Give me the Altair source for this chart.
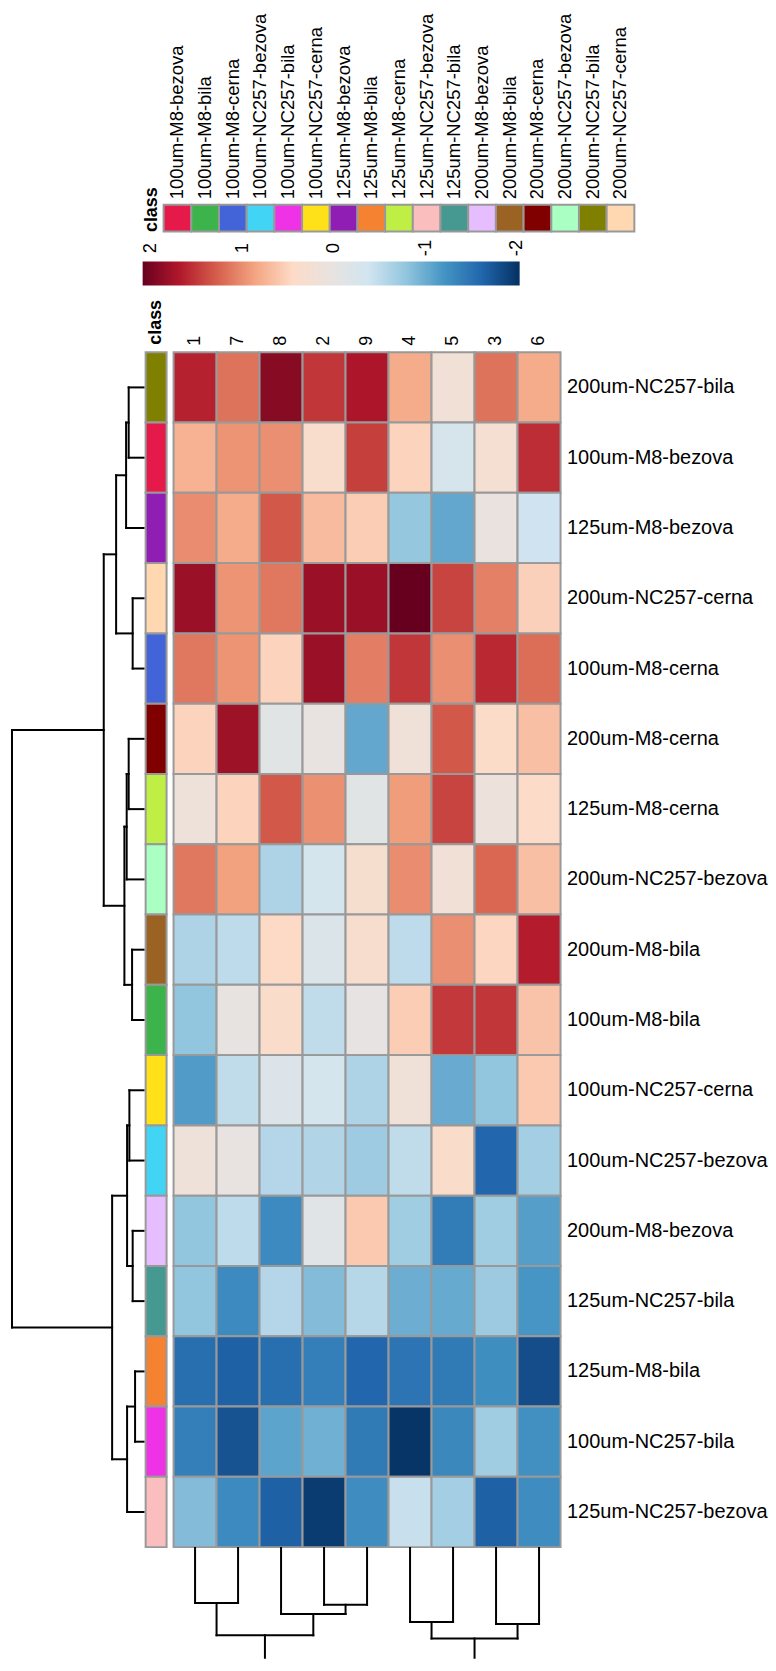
import altair as alt
import pandas as pd

# ---------------- data ----------------
ROWS = ["200um-NC257-bila", "100um-M8-bezova", "125um-M8-bezova", "200um-NC257-cerna",
        "100um-M8-cerna", "200um-M8-cerna", "125um-M8-cerna", "200um-NC257-bezova",
        "200um-M8-bila", "100um-M8-bila", "100um-NC257-cerna", "100um-NC257-bezova",
        "200um-M8-bezova", "125um-NC257-bila", "125um-M8-bila", "100um-NC257-bila",
        "125um-NC257-bezova"]
COLS = ["1", "7", "8", "2", "9", "4", "5", "3", "6"]
VALUES = [
    [1.62, 1.15, 1.90, 1.50, 1.70, 0.80, 0.20, 1.15, 0.80],
    [0.75, 0.95, 0.98, 0.35, 1.45, 0.50, -0.30, 0.25, 1.55],
    [1.00, 0.80, 1.30, 0.68, 0.55, -0.78, -1.05, 0.05, -0.40],
    [1.80, 0.95, 1.12, 1.80, 1.80, 2.08, 1.42, 1.07, 0.52],
    [1.12, 0.95, 0.50, 1.80, 1.08, 1.50, 0.98, 1.58, 1.18],
    [0.50, 1.78, -0.12, 0.02, -1.05, 0.15, 1.30, 0.40, 0.65],
    [0.12, 0.50, 1.30, 0.97, -0.12, 0.90, 1.42, 0.10, 0.42],
    [1.12, 0.87, -0.62, -0.32, 0.30, 1.00, 0.18, 1.22, 0.65],
    [-0.62, -0.52, 0.45, -0.22, 0.32, -0.52, 0.98, 0.48, 1.65],
    [-0.80, 0.00, 0.38, -0.50, -0.02, 0.55, 1.48, 1.50, 0.62],
    [-1.15, -0.50, -0.20, -0.32, -0.62, 0.15, -1.02, -0.80, 0.58],
    [0.13, 0.02, -0.58, -0.60, -0.72, -0.50, 0.38, -1.62, -0.68],
    [-0.80, -0.52, -1.30, -0.13, 0.58, -0.70, -1.42, -0.70, -1.13],
    [-0.80, -1.30, -0.58, -0.88, -0.57, -1.00, -1.03, -0.73, -1.20],
    [-1.55, -1.67, -1.55, -1.40, -1.62, -1.50, -1.45, -1.27, -1.82],
    [-1.40, -1.78, -1.08, -0.98, -1.45, -2.00, -1.32, -0.70, -1.25],
    [-0.88, -1.30, -1.67, -1.95, -1.28, -0.45, -0.68, -1.67, -1.28],
]
CLASSES = ["100um-M8-bezova", "100um-M8-bila", "100um-M8-cerna", "100um-NC257-bezova",
           "100um-NC257-bila", "100um-NC257-cerna", "125um-M8-bezova", "125um-M8-bila",
           "125um-M8-cerna", "125um-NC257-bezova", "125um-NC257-bila", "200um-M8-bezova",
           "200um-M8-bila", "200um-M8-cerna", "200um-NC257-bezova", "200um-NC257-bila",
           "200um-NC257-cerna"]
CLASS_COLORS = ["#e6194b", "#3cb44b", "#4363d8", "#42d4f4", "#f032e6", "#ffe119",
                "#911eb4", "#f58231", "#bfef45", "#fabebe", "#469990", "#e6beff",
                "#9a6324", "#800000", "#aaffc3", "#808000", "#ffd8b1"]

# row dendrogram merges (leaf = row index, "mK" = K-th merge), height
ROW_MERGES = [(0, 1, 15.0), ("m0", 2, 17.6), (3, 4, 11.0), ("m1", "m2", 27.6),
              (5, 6, 15.0), ("m4", 7, 17.0), (8, 9, 11.6), ("m5", "m6", 19.3),
              ("m3", "m7", 40.0), (10, 11, 14.3), (12, 13, 11.0), ("m9", "m10", 16.6),
              (14, 15, 8.6), ("m12", 16, 16.6), ("m11", "m13", 31.6), ("m8", "m14", 132.0)]
# column dendrogram merges (leaf = column position)
COL_MERGES = [(0, 1, 56.0), (3, 4, 57.7), (2, "m1", 67.0), ("m0", "m2", 88.3),
              (5, 6, 75.0), (7, 8, 77.0), ("m4", "m5", 91.7), ("m3", "m6", 160.0)]

SCALE_STOPS = [-2.04, -1.63, -1.22, -0.80, -0.39, 0.02, 0.44, 0.85, 1.26, 1.67, 2.08]
SCALE_COLORS = ["#053061", "#2166ac", "#4393c3", "#92c5de", "#d1e5f0", "#e8e3e0",
                "#fddbc7", "#f4a582", "#d6604d", "#b2182b", "#67001f"]
LEGEND_TICKS = [2, 1, 0, -1, -2]

FONT = "Liberation Sans"
GREY = "#999999"
HM_W, HM_H = 388, 1198
DEN_W, CLS_W, COLDEN_H = 136, 26, 112


def dendro_segments(merges):
    pos, hgt, segs = {}, {}, []

    def get(n):
        if isinstance(n, int):
            return float(n), 0.0
        return pos[n], hgt[n]

    for k, (a, b, h) in enumerate(merges):
        pa, ha = get(a)
        pb, hb = get(b)
        segs.append(dict(p1=pa, p2=pa, h1=ha, h2=h))
        segs.append(dict(p1=pb, p2=pb, h1=hb, h2=h))
        segs.append(dict(p1=pa, p2=pb, h1=h, h2=h))
        pos[f"m{k}"] = (pa + pb) / 2
        hgt[f"m{k}"] = h
    return pd.DataFrame(segs)


def spacer(w, h):
    return alt.Chart(pd.DataFrame({"s": [0]})).mark_rect().encode(
        opacity=alt.value(0)).properties(width=w, height=h)


hm_df = pd.DataFrame([{"row": r, "col": c, "value": VALUES[i][j]}
                      for i, r in enumerate(ROWS) for j, c in enumerate(COLS)])
cls_df = pd.DataFrame({"row": ROWS, "cls": ROWS, "hdr": ["class"] * len(ROWS)})
leg_df = pd.DataFrame({"cls": CLASSES, "k": ["k"] * len(CLASSES)})
grad_df = pd.DataFrame({"lo": [SCALE_STOPS[-1]], "hi": [SCALE_STOPS[0]]})
row_seg = dendro_segments(ROW_MERGES)
col_seg = dendro_segments(COL_MERGES)

class_fill = alt.Scale(domain=CLASSES, range=CLASS_COLORS)

# ---------------- class legend (drawn in the heatmap column, shifted by its scale range) ----
class_legend = alt.Chart(leg_df).mark_rect(stroke=GREY, strokeWidth=2).encode(
    x=alt.X("cls:N", sort=CLASSES,
            scale=alt.Scale(paddingInner=0, paddingOuter=0, range=[-10, 462]),
            axis=alt.Axis(orient="top", labelAngle=270, labelAlign="left", labelBaseline="middle",
                          labelPadding=6, labelFontSize=18.5, labelFont=FONT, ticks=False,
                          tickSize=0, domain=False, title=None, labelOverlap=False,
                          labelLimit=400, labelColor="black")),
    y=alt.Y("k:N", axis=alt.Axis(labels=False, ticks=False, tickSize=0, domain=False,
                                 title="class", titleFont=FONT, titleFontWeight="bold",
                                 titleFontSize=18, titleAngle=270, titleAlign="left",
                                 titleBaseline="bottom", titleX=-13, titleY=27,
                                 titleColor="black")),
    fill=alt.Fill("cls:N", scale=class_fill, legend=None),
).properties(width=HM_W, height=27)

# ---------------- gradient legend ----------------
span = SCALE_STOPS[-1] - SCALE_STOPS[0]
stops = sorted([alt.GradientStop(offset=round((SCALE_STOPS[-1] - v) / span, 4), color=c)
                for v, c in zip(SCALE_STOPS, SCALE_COLORS)], key=lambda s: s.offset)
gradient = alt.Chart(grad_df).mark_rect(
    color=alt.LinearGradient(gradient="linear", stops=stops, x1=0, x2=1, y1=0, y2=0)
).encode(
    x=alt.X("lo:Q", scale=alt.Scale(domain=[SCALE_STOPS[-1], SCALE_STOPS[0]], range=[-31, 347],
                                    nice=False, zero=False),
            axis=alt.Axis(orient="top", values=LEGEND_TICKS, labelAngle=270, labelAlign="center",
                          labelBaseline="middle", labelPadding=14, ticks=False, tickSize=0,
                          domain=False, grid=False, title=None, labelFontSize=18.5,
                          labelFont=FONT, labelExpr="'' + datum.value", labelOverlap=False,
                          labelColor="black")),
    x2="hi:Q",
).properties(width=HM_W, height=24)

# ---------------- row dendrogram ----------------
row_dendro = alt.Chart(row_seg).mark_rule(color="black", strokeWidth=2, strokeCap="square").encode(
    x=alt.X("h1:Q", scale=alt.Scale(domain=[0, DEN_W], reverse=True, nice=False, zero=False),
            axis=None),
    x2="h2:Q",
    y=alt.Y("p1:Q", scale=alt.Scale(domain=[-0.5, len(ROWS) - 0.5], reverse=True, nice=False,
                                    zero=False), axis=None),
    y2="p2:Q",
).properties(width=DEN_W, height=HM_H)

# ---------------- class annotation column ----------------
class_col = alt.Chart(cls_df).mark_rect(stroke=GREY, strokeWidth=2).encode(
    x=alt.X("hdr:N", scale=alt.Scale(paddingInner=0, paddingOuter=0.119, align=0),
            axis=alt.Axis(orient="top", labelAngle=270, labelAlign="left", labelBaseline="middle",
                          labelPadding=8, labelFontSize=18, labelFontWeight="bold", labelFont=FONT,
                          ticks=False, tickSize=0, domain=False, title=None, labelColor="black")),
    y=alt.Y("row:N", sort=ROWS, scale=alt.Scale(paddingInner=0, paddingOuter=0), axis=None),
    fill=alt.Fill("cls:N", scale=class_fill, legend=None),
).properties(width=CLS_W, height=HM_H)

# ---------------- heatmap ----------------
heatmap = alt.Chart(hm_df).mark_rect(stroke=GREY, strokeWidth=2).encode(
    x=alt.X("col:N", sort=COLS, scale=alt.Scale(paddingInner=0, paddingOuter=0),
            axis=alt.Axis(orient="top", labelAngle=270, labelAlign="left", labelBaseline="middle",
                          labelPadding=7, labelFontSize=18, labelFont=FONT, ticks=False, tickSize=0,
                          domain=False, title=None, labelColor="black")),
    y=alt.Y("row:N", sort=ROWS, scale=alt.Scale(paddingInner=0, paddingOuter=0),
            axis=alt.Axis(orient="right", labelFontSize=20, labelFont=FONT, labelPadding=6,
                          ticks=False, tickSize=0, domain=False, title=None, labelLimit=400,
                          labelColor="black")),
    color=alt.Color("value:Q", scale=alt.Scale(domain=SCALE_STOPS, range=SCALE_COLORS,
                                               interpolate="rgb"), legend=None),
).properties(width=HM_W, height=HM_H)

# ---------------- column dendrogram ----------------
col_dendro = alt.Chart(col_seg).mark_rule(color="black", strokeWidth=2, strokeCap="square",
                                          clip=True).encode(
    x=alt.X("p1:Q", scale=alt.Scale(domain=[-0.5, len(COLS) - 0.5], nice=False, zero=False),
            axis=None),
    x2="p2:Q",
    y=alt.Y("h1:Q", scale=alt.Scale(domain=[0, COLDEN_H], reverse=True, nice=False, zero=False),
            axis=None),
    y2="h2:Q",
).properties(width=HM_W, height=COLDEN_H)

cells = [
    spacer(DEN_W, 27), spacer(CLS_W, 27), class_legend,
    spacer(DEN_W, 30), spacer(CLS_W, 30), spacer(HM_W, 30),
    spacer(DEN_W, 24), spacer(CLS_W, 24), gradient,
    spacer(DEN_W, 67), spacer(CLS_W, 67), spacer(HM_W, 67),
    row_dendro, class_col, heatmap,
    spacer(DEN_W, COLDEN_H), spacer(CLS_W, COLDEN_H), col_dendro,
]

chart = alt.concat(*cells, columns=3, spacing={"row": 0, "column": 2},
                   bounds="flush").properties(
    padding={"top": 2, "left": 0, "right": 0, "bottom": 0}).configure_view(
    stroke=None).configure_axis(grid=False, labelFont=FONT, titleFont=FONT)

chart.save("out.html", embed_options={"renderer": "svg", "actions": False})
